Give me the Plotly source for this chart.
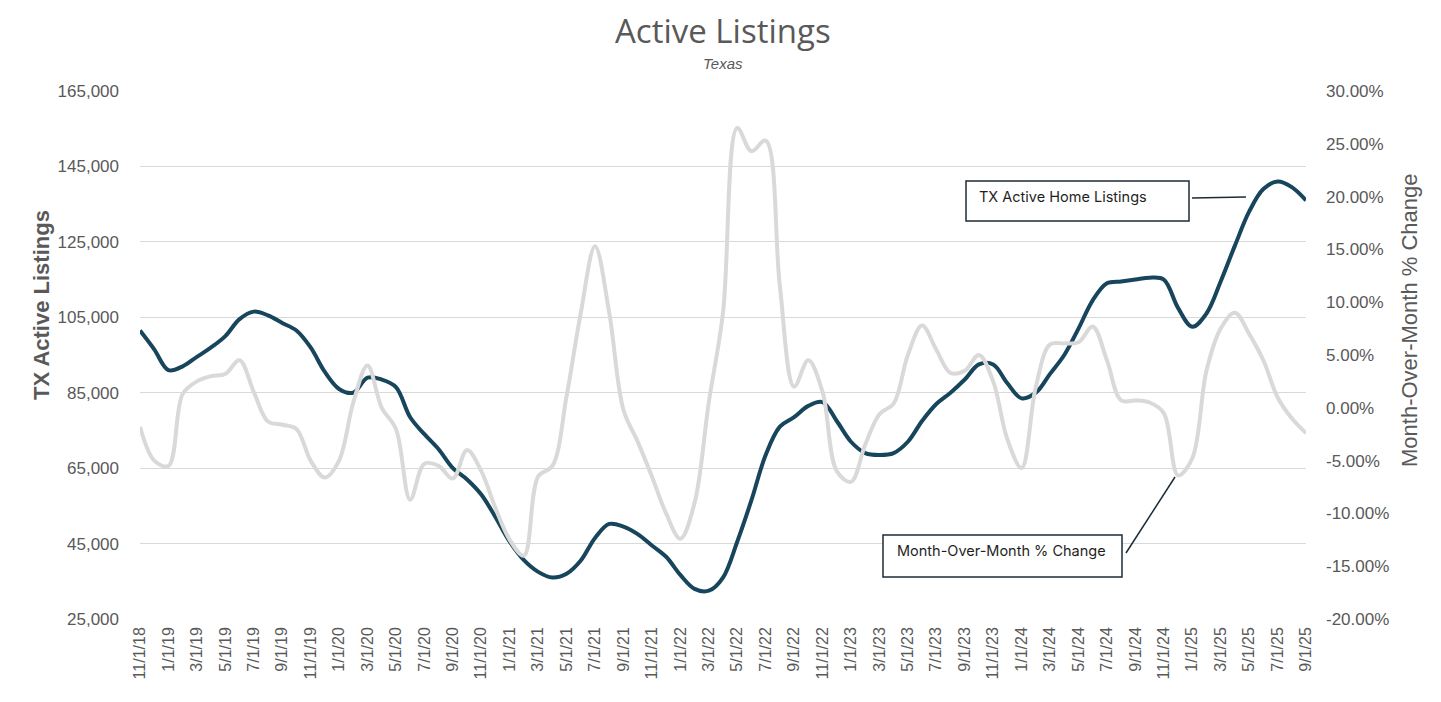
import plotly.graph_objects as go
import pandas as pd

# Monthly dates 11/1/18 .. 9/1/25
dates = pd.date_range("2018-11-01", "2025-09-01", freq="MS")
date_labels = [f"{d.month}/1/{d.year % 100:02d}" for d in dates]

# TX active home listings (thousands)
listings_k = [
    101.5, 96.5, 91.0, 92.0, 94.5, 97.0, 100.0, 104.5, 106.5, 105.5,
    103.5, 101.5, 97.0, 90.5, 86.0, 85.0, 89.0, 88.5, 86.5, 78.5,
    74.0, 70.0, 65.0, 62.0, 58.0, 52.0, 45.5, 40.6, 37.5, 36.0,
    37.0, 40.5, 46.5, 50.2, 49.5, 47.5, 44.5, 41.5, 36.7, 33.0,
    32.5, 36.0, 45.5, 56.5, 68.5, 76.0, 78.5, 81.5, 82.5, 77.5,
    72.0, 69.0, 68.5, 69.0, 72.0, 77.5, 82.0, 85.0, 88.5, 92.5,
    92.5, 87.5, 83.5, 85.0, 90.0, 95.0, 102.0, 109.5, 114.0, 114.5,
    115.0, 115.5, 115.0, 107.5, 102.5, 106.0, 114.5, 124.0, 133.0, 139.0,
    141.0, 139.5, 136.0,
]
listings = [v * 1000 for v in listings_k]

# Month-over-month % change (percent)
mom_pct = [
    -1.8, -5.0, -5.5, 1.3, 2.5, 3.0, 3.2, 4.5, 1.5, -1.3,
    -1.6, -2.0, -5.0, -6.6, -5.0, 0.5, 4.0, 0.0, -2.0, -8.7,
    -5.3, -5.5, -6.7, -4.0, -6.0, -9.5, -12.5, -14.0, -6.5, -5.5,
    1.1, 9.0, 15.3, 9.0, -0.2, -3.2, -6.5, -10.0, -12.4, -9.0,
    0.5, 9.0, 26.5, 24.3, 25.3, 11.5, 2.0, 4.5, 1.5, -6.0,
    -7.0, -3.5, -0.6, 0.4, 5.0, 7.8, 5.5, 3.3, 3.5, 5.0,
    2.5, -3.0, -5.7, 2.0, 6.0, 6.1, 6.2, 7.7, 4.5, 0.7,
    0.7, 0.5, -0.5, -6.4, -4.8, 3.5, 7.5, 9.0, 7.0, 4.5,
    1.0, -1.0, -2.4,
]
mom = [v / 100 for v in mom_pct]

left_ticks = [25000, 45000, 65000, 85000, 105000, 125000, 145000, 165000]
right_ticks = [-0.20, -0.15, -0.10, -0.05, 0.0, 0.05, 0.10, 0.15, 0.20, 0.25, 0.30]
right_tick_text = ["-20.00%", "-15.00%", "-10.00%", "-5.00%", "0.00%", "5.00%",
                   "10.00%", "15.00%", "20.00%", "25.00%", "30.00%"]

GRAY_TXT = "#595959"
DARK = "#17455c"
LIGHT = "#d9d9d9"
ARIAL = "Liberation Sans, Arial, sans-serif"

# page body has an 8px margin: figure placed at (8, 8)
W, H = 1425, 686
PL, PT, PR, PB = 140 - 8, 91 - 8, 1306 - 8, 619 - 8   # plot area in figure px
plot_w, plot_h = PR - PL, PB - PT


def px(xp):
    return (xp - 8 - PL) / plot_w


def py(yp):
    return (PB - (yp - 8)) / plot_h


fig = go.Figure()
fig.add_trace(go.Scatter(
    x=date_labels, y=mom, yaxis="y2", mode="lines",
    line=dict(color=LIGHT, width=4, shape="spline", smoothing=1.0),
    name="Month-Over-Month % Change",
))
fig.add_trace(go.Scatter(
    x=date_labels, y=listings, mode="lines",
    line=dict(color=DARK, width=4, shape="spline", smoothing=1.0),
    name="TX Active Home Listings",
))

fig.update_layout(
    width=W, height=H,
    paper_bgcolor="white", plot_bgcolor="white",
    margin=dict(l=PL, r=W - PR, t=PT, b=H - PB),
    showlegend=False,
    xaxis=dict(
        type="category", range=[0, len(date_labels) - 1],
        tickmode="array", tickvals=date_labels[::2], ticktext=date_labels[::2],
        tickangle=-90, tickfont=dict(family=ARIAL, size=16, color=GRAY_TXT),
        showgrid=False, showline=False, ticks="", zeroline=False, ticklabelstandoff=4,
    ),
    yaxis=dict(
        range=[25000, 165000], tickmode="array", tickvals=left_ticks,
        tickformat=",.0f", ticks="", ticklabelstandoff=20,
        tickfont=dict(family=ARIAL, size=17, color=GRAY_TXT),
        showgrid=True, gridcolor=LIGHT, gridwidth=1, zeroline=False, showline=False,
    ),
    yaxis2=dict(
        overlaying="y", side="right",
        range=[-0.20, 0.30], tickmode="array", tickvals=right_ticks, ticktext=right_tick_text,
        ticks="", ticklabelstandoff=19,
        tickfont=dict(family=ARIAL, size=17, color=GRAY_TXT),
        showgrid=False, zeroline=False, showline=False,
    ),
)

# Title and subtitle
fig.add_annotation(text="Active Listings", xref="paper", yref="paper", x=0.5, y=py(30),
                   xanchor="center", yanchor="middle", showarrow=False,
                   font=dict(family="Open Sans, Liberation Sans, sans-serif", size=33, color=GRAY_TXT))
fig.add_annotation(text="<i>Texas</i>", xref="paper", yref="paper", x=0.5, y=py(63),
                   xanchor="center", yanchor="middle", showarrow=False,
                   font=dict(family=ARIAL, size=15, color=GRAY_TXT))

# Axis titles
fig.add_annotation(text="<b>TX Active Listings</b>", xref="paper", yref="paper", x=px(41), y=py(305),
                   xanchor="center", yanchor="middle", showarrow=False, textangle=-90,
                   font=dict(family=ARIAL, size=22, color=GRAY_TXT))
fig.add_annotation(text="Month-Over-Month % Change", xref="paper", yref="paper", x=px(1409), y=py(321),
                   xanchor="center", yanchor="middle", showarrow=False, textangle=-90,
                   font=dict(family=ARIAL, size=22, color=GRAY_TXT))

# Callout boxes
BOX = "#1c2b36"
fig.add_shape(type="rect", xref="paper", yref="paper", x0=px(966), x1=px(1189), y0=py(221), y1=py(181),
              line=dict(color=BOX, width=1.5), fillcolor="white")
fig.add_shape(type="line", xref="paper", yref="paper", x0=px(1192), x1=px(1246), y0=py(198), y1=py(197),
              line=dict(color=BOX, width=1.5))
fig.add_annotation(text="TX Active Home Listings", xref="paper", yref="paper", x=px(977), y=py(197),
                   xanchor="left", yanchor="middle", showarrow=False,
                   font=dict(family="Inter, Open Sans, sans-serif", size=14.5, color="#1f1f1f"))

fig.add_shape(type="rect", xref="paper", yref="paper", x0=px(883), x1=px(1122), y0=py(577), y1=py(535),
              line=dict(color=BOX, width=1.5), fillcolor="white")
fig.add_shape(type="line", xref="paper", yref="paper", x0=px(1126), x1=px(1175), y0=py(553), y1=py(477),
              line=dict(color=BOX, width=1.5))
fig.add_annotation(text="Month-Over-Month % Change", xref="paper", yref="paper", x=px(895), y=py(551),
                   xanchor="left", yanchor="middle", showarrow=False,
                   font=dict(family="Inter, Open Sans, sans-serif", size=14.5, color="#1f1f1f"))

fig.write_html("out.html")
